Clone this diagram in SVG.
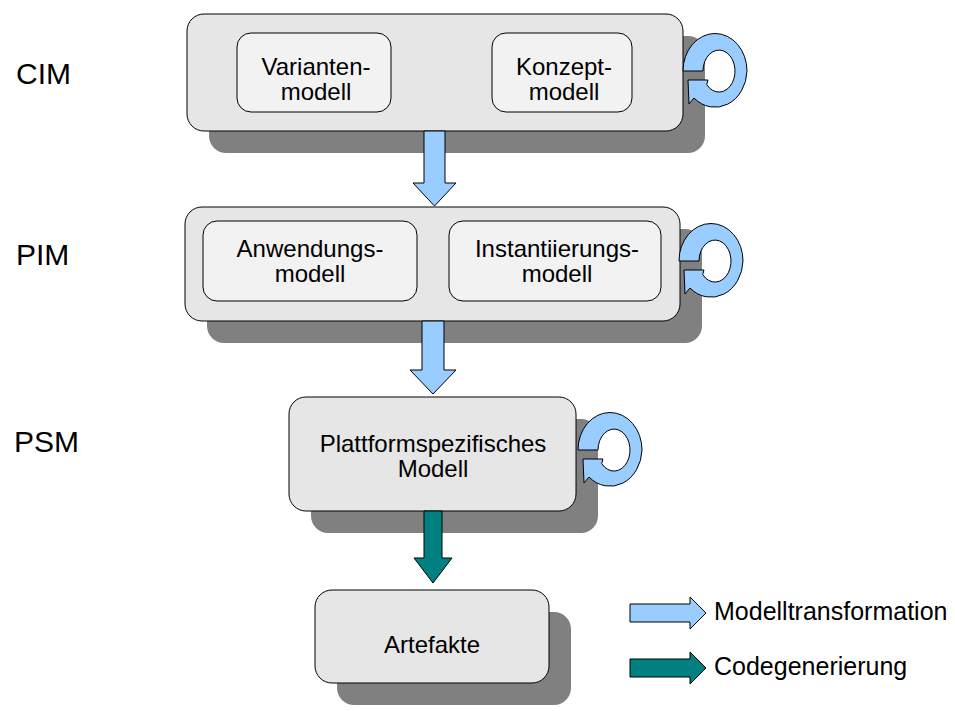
<svg xmlns="http://www.w3.org/2000/svg" width="955" height="711" viewBox="0 0 955 711">
  <defs>
    <style>
      text { font-family: "Liberation Sans", Arial, sans-serif; fill: #000; }
      .lvl { font-size: 30px; }
      .lbl { font-size: 24px; text-anchor: middle; }
      .leg { font-size: 25px; }
      .outer { fill: #e6e6e6; stroke: #000; stroke-width: 1; }
      .inner { fill: #f2f2f2; stroke: #000; stroke-width: 1; }
      .shadow { fill: #808080; }
      .mt { fill: #99ccff; stroke: #000; stroke-width: 1; }
      .cg { fill: #008080; stroke: #000; stroke-width: 1; }
    </style>
    <!-- self-transformation loop, drawn at the CIM position -->
    <path id="loop" class="mt" d="M683,71 A32,37.5 0 0 1 747,71 A32,37.5 0 0 1 694,98 L689,104 L688,80 L708,80 L706.7,84.5 A16,21 0 1 0 703,71 Z"/>
  </defs>

  <rect width="955" height="711" fill="#fff"/>

  <!-- level labels -->
  <text class="lvl" x="16" y="84">CIM</text>
  <text class="lvl" x="16" y="265">PIM</text>
  <text class="lvl" x="14" y="452">PSM</text>

  <g id="cim">
    <rect class="shadow" x="209" y="36" width="496" height="117" rx="17"/>
    <rect class="outer" x="187" y="14" width="496" height="117" rx="17"/>
    <g id="variantenmodell">
      <rect class="inner" x="237" y="33" width="154" height="79" rx="14"/>
      <text class="lbl" x="316" y="75">Varianten-</text>
      <text class="lbl" x="316" y="100">modell</text>
    </g>
    <g id="konzeptmodell">
      <rect class="inner" x="492" y="33" width="140" height="79" rx="14"/>
      <text class="lbl" x="564" y="75">Konzept-</text>
      <text class="lbl" x="564" y="100">modell</text>
    </g>
  </g>

  <g id="pim">
    <rect class="shadow" x="207" y="229" width="495" height="114" rx="17"/>
    <rect class="outer" x="185" y="207" width="495" height="114" rx="17"/>
    <g id="anwendungsmodell">
      <rect class="inner" x="203" y="221" width="214" height="80" rx="14"/>
      <text class="lbl" x="310" y="257">Anwendungs-</text>
      <text class="lbl" x="310" y="282">modell</text>
    </g>
    <g id="instantiierungsmodell">
      <rect class="inner" x="449" y="221" width="212" height="80" rx="14"/>
      <text class="lbl" x="557" y="257">Instantiierungs-</text>
      <text class="lbl" x="557" y="282">modell</text>
    </g>
  </g>

  <g id="psm">
    <rect class="shadow" x="311" y="419" width="287" height="114" rx="17"/>
    <rect class="outer" x="289" y="397" width="287" height="114" rx="17"/>
    <text class="lbl" x="433" y="452">Plattformspezifisches</text>
    <text class="lbl" x="433" y="477">Modell</text>
  </g>

  <g id="artefakte">
    <rect class="shadow" x="337" y="612" width="234" height="93" rx="17"/>
    <rect class="outer" x="315" y="590" width="234" height="93" rx="17"/>
    <text class="lbl" x="432" y="653">Artefakte</text>
  </g>

  <g id="connectors">
    <!-- CIM -> PIM -->
    <path class="mt" d="M424,131 H445 V183 H456 L434.5,206 L413,183 H424 Z"/>
    <!-- PIM -> PSM -->
    <path class="mt" d="M422,321 H444 V370 H456 L433,394 L410,370 H422 Z"/>
    <!-- PSM -> Artefakte -->
    <path class="cg" d="M424,511 H442 V558 H452 L433,583 L414,558 H424 Z"/>
    <!-- self loops -->
    <use href="#loop"/>
    <use href="#loop" transform="translate(-4,190)"/>
    <use href="#loop" transform="translate(-105,379)"/>
  </g>

  <g id="legend">
    <path class="mt" d="M630,604 H690 V597 L706,613 L690,629 V622 H630 Z"/>
    <text class="leg" x="714" y="620">Modelltransformation</text>
    <path class="cg" d="M630,659 H690 V652 L706,668 L690,684 V677 H630 Z"/>
    <text class="leg" x="714" y="675">Codegenerierung</text>
  </g>
</svg>
